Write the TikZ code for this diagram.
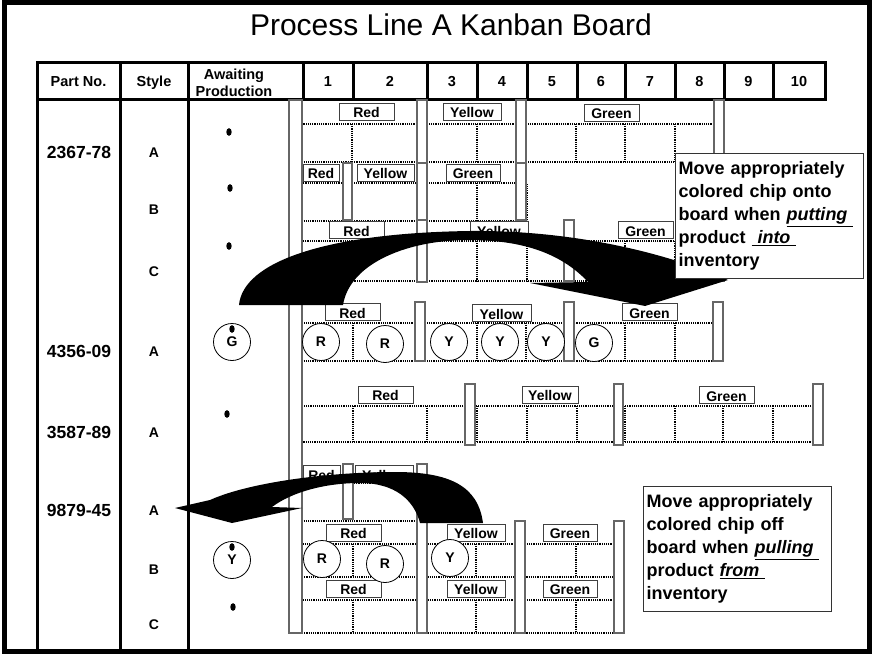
\documentclass[tikz,border=0pt]{standalone}
\usepackage{fontspec}
\setmainfont{Liberation Sans}
\usetikzlibrary{positioning}

\newcommand{\tagfont}{\bfseries\fontsize{14}{14}\selectfont}
\newcommand{\hdrfont}{\bfseries\fontsize{14.5}{17}\selectfont}
\newcommand{\partfont}{\bfseries\fontsize{17.5}{17.5}\selectfont}
\newcommand{\notefont}{\bfseries\fontsize{18}{23}\selectfont}

\tikzset{
  rule/.style={line width=3pt},
  slot/.style={densely dotted, line width=1.2pt},
  chipbar/.style={draw=black!60, line width=1.2pt, fill=white},
  tagbox/.style={draw=black!75, line width=0.9pt, fill=white, inner sep=0pt, minimum height=17pt, text height=12.5pt, text depth=0pt, font=\tagfont},
  chip/.style={circle, draw, line width=0.8pt, fill=white, minimum size=37pt, inner sep=0pt, font=\tagfont},
  hdr/.style={font=\hdrfont, anchor=base},
  callout/.style={draw=black!80, line width=1pt, fill=white, align=left, anchor=north west, text width=182pt, inner sep=3pt, minimum height=125pt, font=\notefont},
  bigarrow/.style={fill=black}
}

\begin{document}
\begin{tikzpicture}[x=1pt, y=-1pt]
  \useasboundingbox (0,0) rectangle (877,655);
  \fill[white] (0,0) rectangle (877,655);

  % title and header row
  \node[font=\fontsize{30}{30}\selectfont, anchor=base] (title) at (451,36) {Process Line A Kanban Board};
  \draw[rule] (37,63) rectangle (825,100);
  \foreach \x in {120,188,303,353,427,477,527,577,625,675,724,773}
    \draw[rule] (\x,63) -- (\x,100);
  \foreach \x in {37,120,188}
    \draw[rule] (\x,100) -- (\x,652);
  \node[hdr] (hpart) at (78.5,87) {Part No.};
  \node[hdr] (hstyle) at (154,87) {Style};
  \node[hdr, align=center] (hwait) at (234,97) {Awaiting\\Production};
  \foreach \lbl/\x in {1/328,2/390,3/452,4/502,5/552,6/601,7/650,8/699.5,9/748.5,10/799}
    \node[hdr] (col\lbl) at (\x,87) {\lbl};

  % part numbers and styles
  \foreach \n/\y/\t in {p1/152/2367-78, p2/351/4356-09, p3/432/3587-89, p4/510.5/9879-45}
    \node[font=\partfont] (\n) at (79,\y) {\t};
  \foreach \n/\y/\t in {s1a/153/A, s1b/210/B, s1c/272/C, s2a/352/A, s3a/432.5/A, s4a/511/A, s4b/570/B, s4c/625/C}
    \node[font=\tagfont] (\n) at (154,\y) {\t};

  % awaiting production
  \foreach \x/\y in {229/132, 230/188, 229/246, 227/414, 233/607}
    \fill (\x,\y) ellipse [x radius=2.7, y radius=3.8];
  \node[chip] (waitG) at (232,342) {\raisebox{-3pt}{G}};
  \fill (232,329) ellipse [x radius=2.7, y radius=3.8];
  \node[chip] (waitY) at (232,560) {\raisebox{-3pt}{Y}};
  \fill (232,547) ellipse [x radius=2.7, y radius=3.8];

  % card slots
  \foreach \xb/\ya/\yb/\xs in {724/124/162/{352,477,576,625,675}, 527/183/221/{477},
      724/241/281/{352,477,527,625,675}, 723/323/361/{353,477,526,625,675},
      823/406/442/{353,427,477,527,577,625,675,723,773}, 427/483/521/{},
      624/544/577/{353,476,576}, 624/600/633/{353,476,576}}
  {
    \draw[slot] (302,\ya) rectangle (\xb,\yb);
    \foreach \x in \xs
      \draw[slot] (\x,\ya) -- (\x,\yb);
  }

  % separator bars
  \draw[chipbar] (289,100) rectangle (302,633);
  \foreach \xa/\xb/\ya/\yb in {417/427/100/163, 516/526/100/163, 714/724/100/163,
      343/352/163/220, 417/427/163/220, 516/526/163/220,
      417/427/220/282, 564/574/220/281, 714/724/220/281,
      415/425/302/361, 564/574/302/361, 713/723/302/361,
      465/475/384/445, 614/623/384/445, 813/823/384/445,
      343/353/464/519, 417/427/464/633, 515/525/521/633, 614/624/521/633}
    \draw[chipbar] (\xa,\ya) rectangle (\xb,\yb);

  % colour tags
  \foreach \n/\x/\y/\w/\t in {r1a/366.5/111.5/55/Red, y1a/472/111.5/58/Yellow, g1a/611.5/112.5/55/Green,
      r1b/321/172.5/36/Red, y1b/385.5/172.5/57/Yellow, g1b/473/172.5/54/Green,
      r1c/356.5/230/55/Red, y1c/499/230/58/Yellow, g1c/645.5/230/55/Green,
      r2a/352.5/312/55/Red, y2a/501.5/313/59/Yellow, g2a/649.5/312/55/Green,
      r3a/385.5/394.5/55/Red, y3a/550/394.5/56/Yellow, g3a/726.5/395/55/Green,
      r4a/321.5/474/37/Red, y4a/384/474/58/Yellow,
      r4b/353.5/532.5/55/Red, y4b/476/532.5/58/Yellow, g4b/570/532.5/54/Green,
      r4c/353.5/588.5/55/Red, y4c/476/588.5/58/Yellow, g4c/570/588.5/54/Green}
    \node[tagbox, minimum width=\w pt] (\n) at (\x,\y) {\t};

  % chips on the board
  \foreach \n/\x/\y/\t in {c2r1/321/342/R, c2r2/385/344/R, c2y1/449/342/Y, c2y2/500/342/Y,
      c2y3/546/342/Y, c2g1/594/343/G, c4r1/322/559/R, c4r2/385/564/R, c4y1/450/558/Y}
    \node[chip] (\n) at (\x,\y) {\t};

  % curved arrows
  \fill[bigarrow] (239,305) .. controls (243,262) and (325,233) .. (470,231)
    .. controls (565,230) and (660,250) .. (728,280)
    -- (645,306) -- (530,283) -- (588,282)
    .. controls (560,252) and (520,240) .. (468,240)
    .. controls (410,240) and (350,262) .. (343,305) -- cycle;
  \fill[bigarrow] (483,523) .. controls (478,486) and (450,472) .. (395,472)
    .. controls (330,472) and (250,482) .. (210,500)
    -- (175,508) -- (232,523) -- (302,508) -- (272,507)
    .. controls (292,492) and (325,483) .. (360,483)
    .. controls (395,483) and (414,500) .. (420,523) -- cycle;

  % notes
  \node[callout] (noteinto) at (675,153) {Move appropriately\\colored chip onto\\board when \underline{\textit{putting}\ }\\product \underline{\ \textit{into}\ }\\inventory};
  \node[callout] (notefrom) at (643,486) {Move appropriately\\colored chip off\\board when \underline{\textit{pulling}\ }\\product \underline{\textit{from}\ }\\inventory};

  % frame
  \draw[line width=5pt] (4.5,3) rectangle (869,651.5);
\end{tikzpicture}
\end{document}
